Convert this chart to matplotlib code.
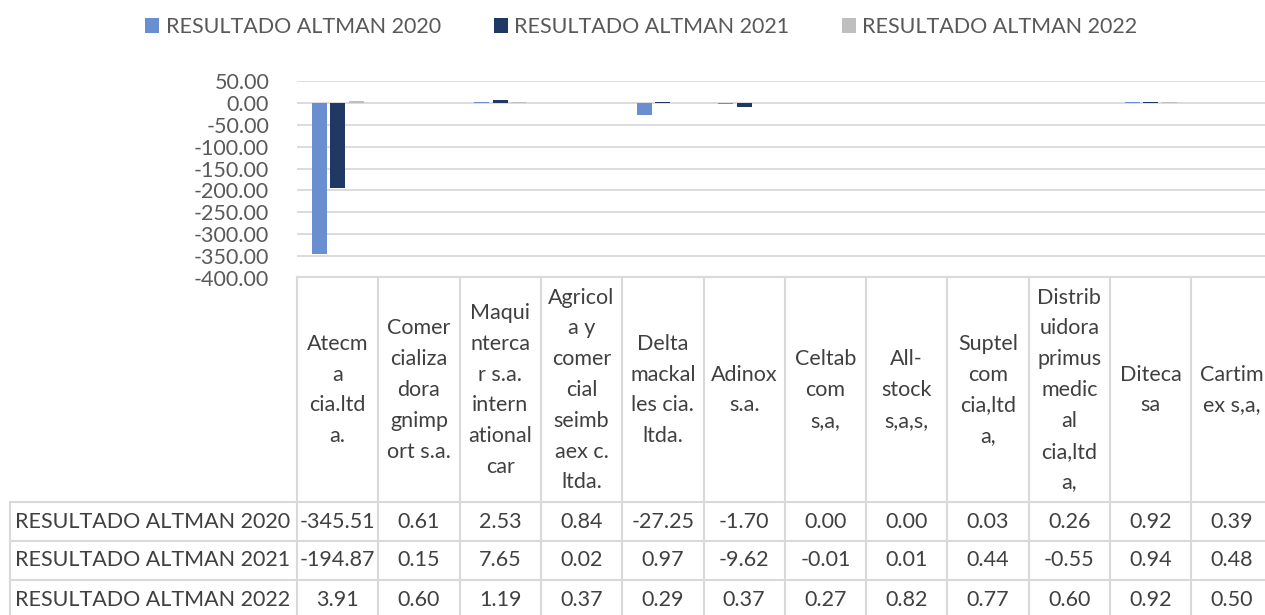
import numpy as np
import matplotlib
matplotlib.use("Agg")
import matplotlib.pyplot as plt
from matplotlib.transforms import blended_transform_factory

empresas = ['Atecm\na\ncia.ltd\na.', 'Comer\ncializa\ndora\ngnimp\nort s.a.',
            'Maqui\nnterca\nr s.a.\nintern\national\ncar',
            'Agricol\na y\ncomer\ncial\nseimb\naex c.\nltda.',
            'Delta\nmackal\nles cia.\nltda.', 'Adinox\ns.a.', 'Celtab\ncom\ns,a,',
            'All-\nstock\ns,a,s,', 'Suptel\ncom\ncia,ltd\na,',
            'Distrib\nuidora\nprimus\nmedic\nal\ncia,ltd\na,', 'Diteca\nsa', 'Cartim\nex s,a,']
series_names = ['RESULTADO ALTMAN 2020', 'RESULTADO ALTMAN 2021', 'RESULTADO ALTMAN 2022']
altman_2020 = [-345.51, 0.61, 2.53, 0.84, -27.25, -1.70, 0.00, 0.00, 0.03, 0.26, 0.92, 0.39]
altman_2021 = [-194.87, 0.15, 7.65, 0.02, 0.97, -9.62, -0.01, 0.01, 0.44, -0.55, 0.94, 0.48]
altman_2022 = [3.91, 0.60, 1.19, 0.37, 0.29, 0.37, 0.27, 0.82, 0.77, 0.60, 0.92, 0.50]
colores = ['#6A8FD1', '#203864', '#BFBFBF']

plt.rcParams['font.family'] = ['Lato', 'DejaVu Sans']
fs = 15.5

W, H = 1265, 615
fig = plt.figure(figsize=(W / 100, H / 100), dpi=100)
ax = fig.add_axes([297 / W, 1 - 278 / H, 1 - 297 / W, (278 - 81) / H])

series = [altman_2020, altman_2021, altman_2022]
x = np.arange(len(empresas))
for k, vals in enumerate(series):
    ax.bar(x + (k - 1) * 0.227, vals, width=0.184, color=colores[k],
           label=series_names[k], zorder=3)

ax.set_ylim(-400, 50)
ax.set_xlim(-0.5, -0.5 + (W - 297) / 81.3)
ax.set_yticks(np.arange(-400, 51, 50))
ax.set_yticklabels(['%.2f' % v for v in np.arange(-400, 51, 50)])
ax.tick_params(axis='y', length=0, pad=20, labelsize=fs, labelcolor='#595959')
ax.set_xticks([])
for s in ax.spines.values():
    s.set_visible(False)
ax.grid(axis='y', color='#D9D9D9', linewidth=1.3, zorder=0)

fig.legend(loc='center', bbox_to_anchor=(0.507, 1 - 27 / H), ncol=3, frameon=False,
           fontsize=fs, handlelength=0.65, handleheight=0.65, handletextpad=0.3,
           columnspacing=2.45, labelcolor='#595959')

# data table under the plot
tr = blended_transform_factory(ax.transData, fig.transFigure)
gc = '#D9D9D9'
tc = '#404040'
def fy(p):
    return 1 - p / H

ncol = len(empresas)
row_y = [277, 502, 541, 580, 619]
ax.plot([-0.5, ncol - 0.5], [fy(277)] * 2, transform=tr, color=gc, lw=1.5, clip_on=False)
for yy in row_y[1:]:
    fig.add_artist(plt.Line2D([10 / W, 1], [fy(yy)] * 2, color=gc, lw=1.5))
for i in range(ncol + 1):
    ax.plot([i - 0.5] * 2, [fy(277), fy(619)], transform=tr, color=gc, lw=1.5, clip_on=False)
fig.add_artist(plt.Line2D([10 / W] * 2, [fy(502), fy(619)], color=gc, lw=1.5))

# header cells, one line at a time
for i, lab in enumerate(empresas):
    lines = lab.split('\n')
    n = len(lines)
    for j, ln in enumerate(lines):
        yc = 390 + (j - (n - 1) / 2) * 30.8
        ax.text(i, fy(yc), ln, transform=tr, ha='center', va='center',
                fontsize=fs, color=tc, clip_on=False)

for r, vals in enumerate(series):
    yc = (row_y[r + 1] + row_y[r + 2]) / 2
    fig.text(15 / W, fy(yc), series_names[r], ha='left', va='center', fontsize=fs, color=tc)
    for i, v in enumerate(vals):
        ax.text(i, fy(yc), '%.2f' % v, transform=tr, ha='center', va='center',
                fontsize=fs, color=tc, clip_on=False)

fig.savefig('out.png', dpi=100)
